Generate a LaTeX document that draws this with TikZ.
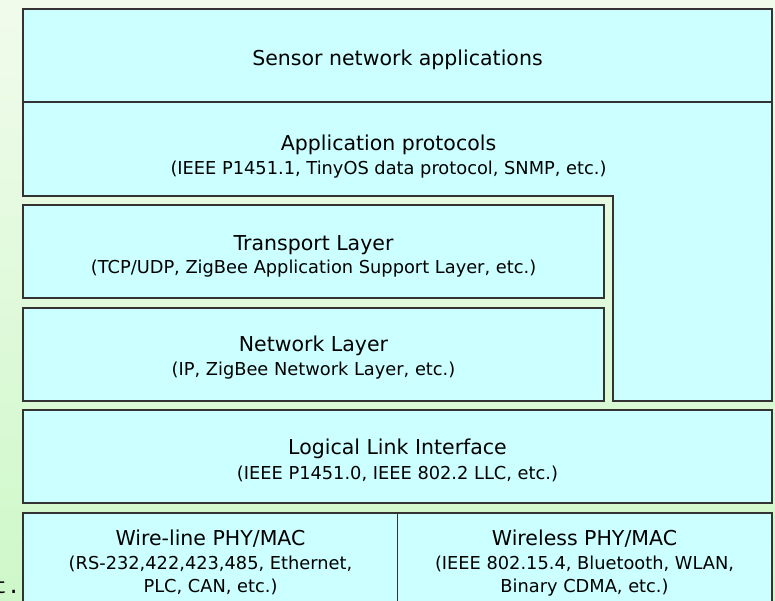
\documentclass[tikz,border=0pt]{standalone}
\usepackage{fontspec}
\setmainfont{DejaVu Sans}
\newfontfamily\slidemono{Liberation Mono}
\usepackage{tikz}
\usetikzlibrary{positioning}

\definecolor{layerfill}{HTML}{CCFFFF}
\definecolor{bgtop}{HTML}{F1FBEC}
\definecolor{bgbottom}{HTML}{CEF8C9}

\begin{document}
\begin{tikzpicture}[x=1pt, y=-1pt,
    layer/.style={fill=layerfill, draw=black!80, line width=1.2pt},
    title/.style={anchor=base, inner sep=0pt, font=\fontsize{20.5}{24}\selectfont},
    sub/.style={anchor=base, inner sep=0pt, align=center, font=\fontsize{17.8}{23.5}\selectfont}]
			% Background
			\shade[top color=bgtop, bottom color=bgbottom] (0,0) rectangle (775,600);
			\useasboundingbox (0,0) rectangle (775,600);
			
			% Upper block (applications)
			\draw[layer] (23,9) -- (772,9) -- (772,401) -- (613,401) -- (613,196) -- (23,196) -- cycle;
			\draw[draw=black!80, line width=1.2pt] (23,102) -- (772,102);
			
			% Layers
			\draw[layer] (23,205) rectangle (604,298);
			\draw[layer] (23,308) rectangle (604,401);
			\draw[layer] (23,410) rectangle (772,503);
			\draw[layer] (23,513) rectangle (772,603);
			\draw[draw=black!80, line width=1.2pt] (397.5,513) -- (397.5,603);
			
			% Labels (multi-line nodes sit on their last baseline)
			\node[title] (apps) at (397.5,65) {Sensor network applications};
			\node[title] (proto) at (388.5,150) {Application protocols};
			\node[sub] (protosub) at (388.5,174) {(IEEE P1451.1, TinyOS data protocol, SNMP, etc.)};
			\node[title] (transport) at (313.5,250) {Transport Layer};
			\node[sub] (transportsub) at (313.5,273.5) {(TCP/UDP, ZigBee Application Support Layer, etc.)};
			\node[title] (network) at (313.5,351.7) {Network Layer};
			\node[sub] (networksub) at (313.5,375.5) {(IP, ZigBee Network Layer, etc.)};
			\node[title] (llc) at (397.5,454.3) {Logical Link Interface};
			\node[sub] (llcsub) at (397.5,479) {(IEEE P1451.0, IEEE 802.2 LLC, etc.)};
			\node[title] (wired) at (210.5,545) {Wire-line PHY/MAC};
			\node[sub] (wiredsub) at (210.5,592.5) {(RS-232,422,423,485, Ethernet,\\PLC, CAN, etc.)};
			\node[title] (wireless) at (584.5,545) {Wireless PHY/MAC};
			\node[sub] (wirelesssub) at (584.5,592.5) {(IEEE 802.15.4, Bluetooth, WLAN,\\Binary CDMA, etc.)};
			
			% Cut-off slide text
			\node[anchor=base east, inner sep=0pt, font=\slidemono\fontsize{22}{22}\selectfont] (cut) at (20.5,593) {t.};
		\end{tikzpicture}
\end{document}
